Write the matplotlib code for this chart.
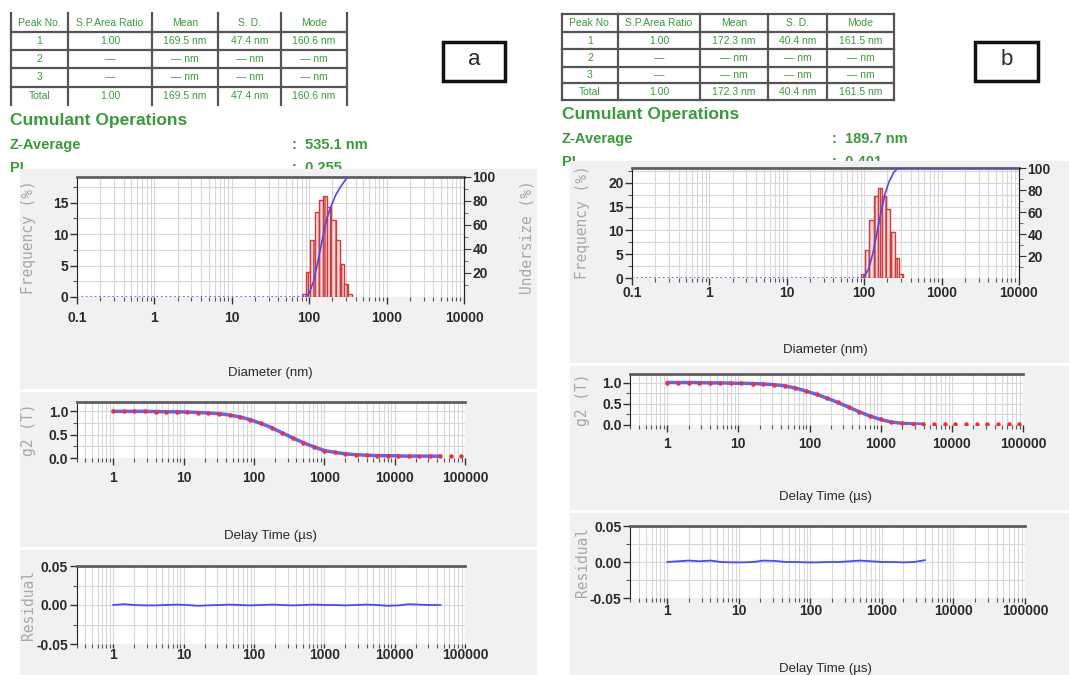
import matplotlib.pyplot as plt
from matplotlib import font_manager
from matplotlib.patches import Rectangle
from matplotlib.lines import Line2D
from matplotlib.ticker import LogLocator, FixedLocator, FuncFormatter, NullFormatter

W, H = 1069, 675

# ---- table data ----
table_header = ['Peak No.', 'S.P.Area Ratio', 'Mean', 'S. D.', 'Mode']
table_a = [['1', '1.00', '169.5 nm', '47.4 nm', '160.6 nm'],
           ['2', '—', '— nm', '— nm', '— nm'],
           ['3', '—', '— nm', '— nm', '— nm'],
           ['Total', '1.00', '169.5 nm', '47.4 nm', '160.6 nm']]
table_b = [['1', '1.00', '172.3 nm', '40.4 nm', '161.5 nm'],
           ['2', '—', '— nm', '— nm', '— nm'],
           ['3', '—', '— nm', '— nm', '— nm'],
           ['Total', '1.00', '172.3 nm', '40.4 nm', '161.5 nm']]
zavg_a, pi_a = '535.1 nm', '0.255'
zavg_b, pi_b = '189.7 nm', '0.401'

# ---- size distribution (intensity, %) ----
edges_a = [81, 91.7, 103.9, 117.7, 133.3, 150.9, 170.9, 193.6, 219.2, 248.3, 281.2, 318.4, 360.6]
freq_a = [0.5, 4.0, 9.0, 13.5, 15.4, 16.0, 14.4, 12.2, 9.0, 5.2, 2.0, 0.4]
under_x_a = [90, 100, 115, 130, 150, 170, 190, 220, 255, 290, 311]
under_y_a = [0, 3, 14, 30, 50, 66, 75, 85, 92, 97, 100]

edges_b = [90.6, 102.7, 116.5, 132.1, 149.8, 169.9, 192.6, 218.4, 247.7, 280.9, 318.5]
freq_b = [0.9, 5.8, 12.1, 17.2, 18.9, 17.3, 14.5, 9.7, 4.2, 0.9]
under_x_b = [95, 100, 115, 130, 145, 164, 185, 208, 240, 275, 10000]
under_y_b = [0, 1, 9, 23, 40, 59, 76, 87, 96, 100, 100]

# ---- correlogram ----
tau = [1, 1.4, 2, 2.8, 4, 5.6, 8, 11, 16, 22, 32, 45, 63, 89, 126, 178, 251, 355,
       501, 708, 1000, 1413, 1995, 2818, 3981, 5623, 7943, 11220, 15849, 22387,
       31623, 44668, 63096, 89125]
g2_a = [1.00, 1.00, 1.00, 1.00, 0.995, 0.99, 0.99, 0.985, 0.975, 0.965, 0.95, 0.92,
        0.88, 0.82, 0.74, 0.65, 0.54, 0.43, 0.33, 0.24, 0.16, 0.12, 0.09, 0.07, 0.06,
        0.05, 0.05, 0.045, 0.04, 0.04, 0.04, 0.04, 0.04, 0.035]
g2_b = [1.00, 1.00, 1.00, 0.995, 0.99, 0.99, 0.985, 0.98, 0.975, 0.965, 0.95, 0.92,
        0.87, 0.80, 0.72, 0.63, 0.53, 0.42, 0.31, 0.21, 0.13, 0.07, 0.04, 0.025, 0.02,
        0.025, 0.03, 0.025, 0.03, 0.025, 0.03, 0.025, 0.03, 0.02]
nfit_a, nfit_b = 32, 25

# ---- residuals ----
resid_a = [0.000, 0.001, 0.000, -0.0005, -0.0005, 0.000, 0.0005, 0.000, -0.001, -0.0005,
           0.000, 0.0005, 0.000, -0.0005, 0.000, 0.0005, 0.000, -0.0005, 0.000, 0.0005,
           0.000, 0.000, -0.0005, 0.000, 0.0005, 0.000, -0.001, -0.0005, 0.001, 0.0005,
           0.000, 0.000]
resid_b = [0.000, 0.001, 0.002, 0.001, 0.002, 0.000, -0.0005, -0.0005, 0.000, 0.002,
           0.0015, 0.000, 0.000, -0.0005, -0.0005, 0.000, 0.000, 0.001, 0.002, 0.001,
           0.000, 0.000, -0.0005, 0.000, 0.0025]

names = {f.name for f in font_manager.fontManager.ttflist}
NARROW = 'Liberation Sans Narrow' if 'Liberation Sans Narrow' in names else 'Liberation Sans'
GREEN = '#389c3a'
BG = '#f1f1f1'
GRID = '#d8d8d8'
TXT = '#2a2a2a'

fig = plt.figure(figsize=(W / 100, H / 100), dpi=100)


def box(x0, y0, x1, y1):
    return [x0 / W, 1 - y1 / H, (x1 - x0) / W, (y1 - y0) / H]


def rect(x0, y0, x1, y1, color, z):
    fig.add_artist(Rectangle((x0 / W, 1 - y1 / H), (x1 - x0) / W, (y1 - y0) / H,
                             transform=fig.transFigure, color=color, lw=0, zorder=z))


def hline(x0, x1, y, lw=1.6, color='#555555'):
    fig.add_artist(Line2D([x0 / W, x1 / W], [1 - y / H, 1 - y / H],
                          transform=fig.transFigure, color=color, lw=lw, zorder=3))


def vline(x, y0, y1, lw=1.6, color='#555555'):
    fig.add_artist(Line2D([x / W, x / W], [1 - y0 / H, 1 - y1 / H],
                          transform=fig.transFigure, color=color, lw=lw, zorder=3))


def txt(x, y, s, **kw):
    kw.setdefault('zorder', 3)
    fig.text(x / W, 1 - y / H, s, **kw)


def draw_table(cols, rows, body, border):
    for x in cols:
        vline(x, rows[0], rows[-1])
    inner = rows if border else rows[1:-1]
    for y in inner:
        hline(cols[0], cols[-1], y)
    for i, line in enumerate([table_header] + body):
        yc = (rows[i] + rows[i + 1]) / 2
        for j, s in enumerate(line):
            xc = (cols[j] + cols[j + 1]) / 2
            txt(xc, yc, s, ha='center', va='center', color=GREEN,
                fontsize=7.5, family=NARROW)


def report_text(x, y_title, zx, zavg, pi):
    txt(x, y_title, 'Cumulant Operations', ha='left', va='center', color=GREEN,
        fontsize=12.5, fontweight='bold', family=NARROW)
    txt(x, y_title + 24, 'Z-Average', ha='left', va='center', color=GREEN,
        fontsize=10.5, fontweight='bold', family=NARROW)
    txt(x, y_title + 47, 'PI', ha='left', va='center', color=GREEN,
        fontsize=10.5, fontweight='bold', family=NARROW)
    txt(zx, y_title + 24, ':  ' + zavg, ha='left', va='center', color=GREEN,
        fontsize=10.5, fontweight='bold', family=NARROW)
    txt(zx, y_title + 47, ':  ' + pi, ha='left', va='center', color=GREEN,
        fontsize=10.5, fontweight='bold', family=NARROW)


def label_box(x0, y0, x1, y1, s):
    fig.add_artist(Rectangle((x0 / W, 1 - y1 / H), (x1 - x0) / W, (y1 - y0) / H,
                             transform=fig.transFigure, facecolor='white',
                             edgecolor='#111111', lw=2.5, zorder=3))
    txt((x0 + x1) / 2, (y0 + y1) / 2 - 2, s, ha='center', va='center',
        fontsize=16, color=TXT, family='Liberation Sans', zorder=4)


def style_axes(ax, xlim, ylim, yticks, yminor, yfmt, xpad, xlen=5, right_spine=False):
    ax.set_zorder(5)
    ax.set_xscale('log')
    ax.set_xlim(*xlim)
    ax.set_ylim(*ylim)
    ax.xaxis.set_major_locator(LogLocator(base=10, numticks=12))
    ax.xaxis.set_minor_locator(LogLocator(base=10, subs=range(2, 10), numticks=12))
    ax.xaxis.set_major_formatter(FuncFormatter(lambda v, p: '%g' % v))
    ax.xaxis.set_minor_formatter(NullFormatter())
    ax.yaxis.set_major_locator(FixedLocator(yticks))
    ax.yaxis.set_minor_locator(FixedLocator(yminor))
    ax.yaxis.set_major_formatter(FuncFormatter(lambda v, p: yfmt % v))
    ax.grid(True, which='both', color=GRID, lw=0.8)
    ax.set_axisbelow(True)
    for side in ['bottom', 'right']:
        ax.spines[side].set_visible(False)
    if right_spine:
        ax.spines['right'].set_visible(True)
        ax.spines['right'].set_color('#222222')
    ax.spines['top'].set_color('#606060')
    ax.spines['top'].set_linewidth(2)
    ax.spines['left'].set_color('#222222')
    ax.tick_params(axis='both', which='major', width=1, color='#333333',
                   labelsize=10, labelcolor=TXT)
    ax.tick_params(axis='y', which='major', length=5, pad=1)
    ax.tick_params(axis='x', which='major', length=xlen, pad=xpad)
    ax.tick_params(axis='both', which='minor', length=3, width=0.8, color='#555555')
    for lab in ax.get_xticklabels() + ax.get_yticklabels():
        lab.set_family(NARROW)
        lab.set_fontweight('bold')


def ylab(x, y, s):
    txt(x, y, s, rotation=90, ha='center', va='center', color='#a8a8a8',
        fontsize=10.5, family='DejaVu Sans Mono', zorder=6)


def size_plot(pos, edges, freq, ux, uy, ytop, yticks, yminor, base_end, xpad):
    ax = fig.add_axes(box(*pos))
    style_axes(ax, (0.1, 10000), (0, ytop), yticks, yminor, '%g', xpad, right_spine=True)
    widths = [edges[i + 1] - edges[i] for i in range(len(freq))]
    ax.bar(edges[:-1], freq, width=widths, align='edge', facecolor='#f7dcdc',
           edgecolor='#d03a3a', lw=1.0, hatch='|||', zorder=3)
    ax2 = ax.twinx()
    ax2.set_zorder(6)
    ax2.patch.set_visible(False)
    ax2.set_ylim(0, 100)
    ax2.yaxis.set_major_locator(FixedLocator([20, 40, 60, 80, 100]))
    ax2.yaxis.set_minor_locator(FixedLocator([10, 30, 50, 70, 90]))
    for side in ['top', 'bottom', 'left']:
        ax2.spines[side].set_visible(False)
    ax2.spines['right'].set_color('#222222')
    ax2.tick_params(axis='y', which='major', length=5, color='#333333',
                    labelsize=10, labelcolor=TXT, pad=1)
    ax2.tick_params(axis='y', which='minor', length=3, color='#555555')
    for lab in ax2.get_yticklabels():
        lab.set_family(NARROW)
        lab.set_fontweight('bold')
    ax2.plot([0.1, base_end], [0, 0], ls=':', color='#5050ff', lw=1.2)
    ax2.plot(ux, uy, color='#4848ff', lw=1.2)
    ax2.set_xlim(0.1, 10000)
    return ax


def corr_plot(pos, g2, nfit, xpad):
    ax = fig.add_axes(box(*pos))
    style_axes(ax, (0.3, 100000), (0, 1.2), [0, 0.5, 1.0], [0.25, 0.75], '%.1f', xpad)
    ax.plot(tau[:nfit], g2[:nfit], color='#4848ff', lw=2.5, alpha=0.85, zorder=3)
    ax.plot(tau[:len(g2)], g2, ls='none', marker='o', ms=3.2, color='#ff2a2a',
            mec='none', zorder=4)
    return ax


def resid_plot(pos, resid, xpad, xlen):
    ax = fig.add_axes(box(*pos))
    style_axes(ax, (0.3, 100000), (-0.05, 0.05), [-0.05, 0, 0.05], [-0.025, 0.025],
               '%.2f', xpad, xlen)
    ax.plot(tau[:len(resid)], resid, color='#4848ff', lw=1.3, zorder=3)
    return ax


# backgrounds of the two plot panels (they also cut off the PI lines)
rect(20, 169, 537, 675, BG, 4)
rect(20, 389, 537, 392, 'white', 4)
rect(20, 547, 537, 550, 'white', 4)
rect(570, 161, 1069, 675, BG, 4)
rect(570, 363, 1069, 366, 'white', 4)
rect(570, 510, 1069, 513, 'white', 4)

# ---- panel a ----
draw_table([11, 68, 152, 218, 281, 347], [13, 32, 50, 68, 87, 105], table_a, border=False)
report_text(10, 121, 292, zavg_a, pi_a)
label_box(443, 42, 505, 81, 'a')

size_plot((77, 177, 464, 297), edges_a, freq_a, under_x_a, under_y_a, 19.1,
          [0, 5, 10, 15], [2.5, 7.5, 12.5, 17.5], 90, 5)
ylab(29, 237, 'Frequency (%)')
ylab(527, 237, 'Undersize (%)')
txt(270, 373, 'Diameter (nm)', ha='center', va='center', fontsize=9.5, color=TXT,
    family=NARROW, zorder=6)

corr_plot((76.5, 402, 465, 458), g2_a, nfit_a, 4)
ylab(29, 430, 'g2 (T)')
txt(270, 536, 'Delay Time (µs)', ha='center', va='center', fontsize=9.5, color=TXT,
    family=NARROW, zorder=6)

resid_plot((76.5, 566, 465, 644), resid_a, 0, 3)
ylab(29, 605, 'Residual')

# ---- panel b ----
draw_table([562, 618, 700, 768, 827, 894], [14, 31.7, 49.3, 66.7, 83.3, 100], table_b, border=True)
report_text(562, 115, 832, zavg_b, pi_b)
label_box(975, 42, 1038, 81, 'b')

size_plot((632, 168, 1019, 278), edges_b, freq_b, under_x_b, under_y_b, 23.1,
          [0, 5, 10, 15, 20], [2.5, 7.5, 12.5, 17.5, 22.5], 100, 0.5)
ylab(583, 222, 'Frequency (%)')
txt(825, 350, 'Diameter (nm)', ha='center', va='center', fontsize=9.5, color=TXT,
    family=NARROW, zorder=6)

corr_plot((630, 374, 1023, 425), g2_b, nfit_b, 3.3)
ylab(583, 400, 'g2 (T)')
txt(825, 497, 'Delay Time (µs)', ha='center', va='center', fontsize=9.5, color=TXT,
    family=NARROW, zorder=6)

resid_plot((630, 526, 1025, 598), resid_b, 0.5, 4)
ylab(583, 562, 'Residual')
txt(825, 669, 'Delay Time (µs)', ha='center', va='center', fontsize=9.5, color=TXT,
    family=NARROW, zorder=6)

fig.savefig('out.png', dpi=100)
